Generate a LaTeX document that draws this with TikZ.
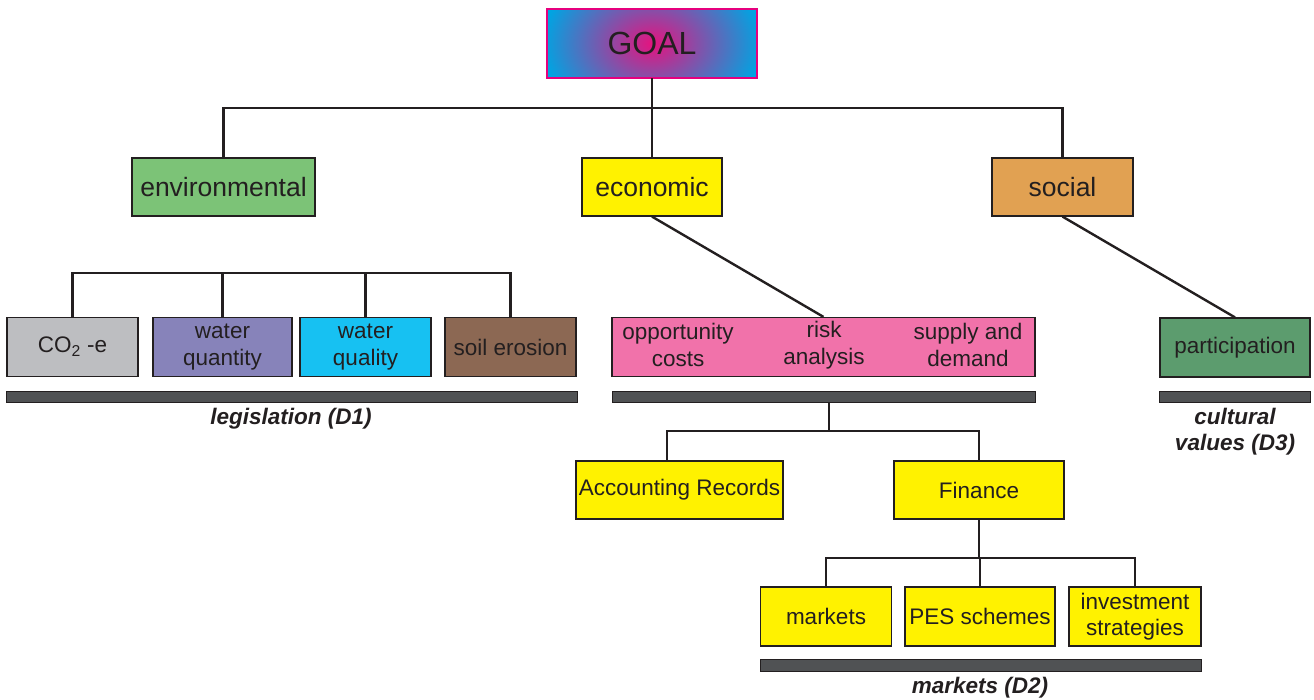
\documentclass[tikz,border=0pt]{standalone}
\usepackage{fontspec}
\setmainfont{Liberation Sans}
\usetikzlibrary{positioning}

\definecolor{ink}{HTML}{231F20}
\definecolor{goalpink}{HTML}{E5137F}
\definecolor{goalcyan}{HTML}{00A4E2}
\definecolor{goalline}{HTML}{E6007E}
\definecolor{envgreen}{HTML}{7CC377}
\definecolor{ecoyellow}{HTML}{FFF200}
\definecolor{socorange}{HTML}{E1A152}
\definecolor{cogrey}{HTML}{BDBEC1}
\definecolor{qtypurple}{HTML}{8783BA}
\definecolor{qlycyan}{HTML}{17C1F2}
\definecolor{soilbrown}{HTML}{8C6853}
\definecolor{riskpink}{HTML}{F172AA}
\definecolor{partgreen}{HTML}{5C9C6E}
\definecolor{bargrey}{HTML}{505254}

\newcommand\topsize{\fontsize{26.5}{30}\selectfont}
\newcommand\lowsize{\fontsize{22.5}{26.5}\selectfont}

\begin{document}
\begin{tikzpicture}[x=1pt,y=-1pt,
    box/.style={draw=ink, line width=1.2pt, inner sep=0pt, align=center, text=ink, font=\lowsize},
    topbox/.style={box, minimum height=58pt, font=\topsize},
    lowbox/.style={box, minimum height=59pt},
    bar/.style={draw=ink, fill=bargrey, line width=0.8pt, inner sep=0pt, minimum height=11pt},
    link/.style={draw=ink, line width=2.4pt},
    caption/.style={text=ink, font=\lowsize\bfseries\itshape, align=center}]
    \useasboundingbox (0,0) rectangle (1314,699);

    % top
    \node[fill=goalcyan, minimum width=210pt, minimum height=69pt, text=ink,
        font=\fontsize{32}{36}\selectfont,
        path picture={\shade[inner color=goalpink, outer color=goalcyan]
            (path picture bounding box.center) ellipse (110pt and 82pt);},
        postaction={draw=goalline, line width=2.5pt}] (goal) at (652,43.5) {GOAL};

    \node[topbox, fill=envgreen, minimum width=183pt] (env) at (223.5,187) {environmental};
    \node[topbox, fill=ecoyellow, minimum width=140pt] (eco) at (652,187) {economic};
    \node[topbox, fill=socorange, minimum width=141pt] (soc) at (1062.5,187) {social};

    % environmental
    \node[lowbox, fill=cogrey, minimum width=131pt] (co2) at (72.5,347) {CO\textsubscript{2} -e};
    \node[lowbox, fill=qtypurple, minimum width=139pt] (wqn) at (222.5,347) {water\\quantity};
    \node[lowbox, fill=qlycyan, minimum width=131pt] (wql) at (365.5,347) {water\\quality};
    \node[lowbox, fill=soilbrown, minimum width=131pt] (soil) at (510.5,347) {soil erosion};
    \node[bar, minimum width=571pt] (bar1) at (291.5,396.5) {};
    \node[caption] (leg) at (291,419) {legislation (D1)};

    % economic
    \node[lowbox, fill=riskpink, minimum width=423pt] (pink) at (823.5,347) {};
    \node[text=ink, font=\lowsize, align=center] (opp) at (678,345) {opportunity\\costs};
    \node[text=ink, font=\lowsize, align=center] (risk) at (824,345) {risk\\analysis};
    \node[text=ink, font=\lowsize, align=center] (sup) at (968,345) {supply and\\demand};
    \node[bar, minimum width=423pt] (bar2) at (823.5,396.5) {};

    \node[lowbox, fill=ecoyellow, minimum width=207pt, minimum height=58pt] (acc) at (679.5,490) {Accounting Records};
    \node[lowbox, fill=ecoyellow, minimum width=170pt, minimum height=58pt] (fin) at (979,490) {Finance};

    \node[lowbox, fill=ecoyellow, minimum width=131pt] (mkts) at (826,616.5) {markets};
    \node[lowbox, fill=ecoyellow, minimum width=150pt] (pes) at (980,616.5) {PES schemes};
    \node[lowbox, fill=ecoyellow, minimum width=132pt] (inv) at (1135,616.5) {investment\\strategies};
    \node[bar, minimum width=441pt, minimum height=12pt] (bar4) at (980.5,665) {};
    \node[caption] (mkt) at (980,688) {markets (D2)};

    % social
    \node[lowbox, fill=partgreen, minimum width=150pt] (part) at (1235,347.5) {participation};
    \node[bar, minimum width=151pt] (bar3) at (1234.5,396.5) {};
    \node[caption] (cult) at (1235,431.5) {cultural\\values (D3)};

    % connectors
    \coordinate (g1) at (652,108);
    \coordinate (e1) at (291,273);
    \coordinate (p1) at (829,431);
    \coordinate (f1) at (979,558);
    \draw[link] (goal) -- (g1) -| (env) (g1) -| (soc) (g1) -- (eco);
    \draw[link] (co2) |- (e1) -| (soil) (wqn) -- (wqn |- e1) (wql) -- (wql |- e1);
    \draw[link] (eco.south) -- (pink.north);
    \draw[link] (soc.south) -- (part.north);
    \draw[link] (p1 |- bar2.south) -- (p1);
    \draw[link] ([xshift=-12.5pt]acc.north) |- (p1) -| (fin);
    \draw[link] (fin) -- (f1) (mkts) |- (f1) -| (inv) (pes) -- (pes |- f1);

\end{tikzpicture}
\end{document}
